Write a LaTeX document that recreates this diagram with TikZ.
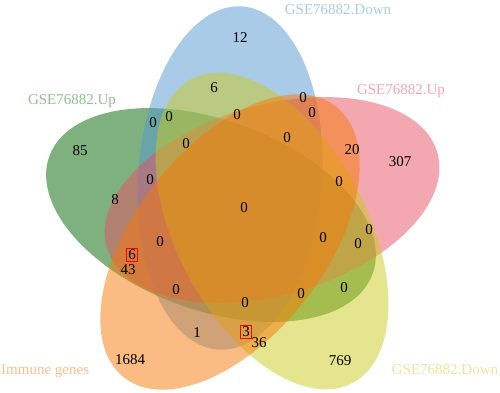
\documentclass[tikz,border=0pt]{standalone}
\usepackage{fontspec}
\setmainfont{Liberation Serif}
\usepackage{xcolor}
\usepackage{tikz}
\definecolor{vertgse}{RGB}{0,100,0}
\definecolor{bleugse}{RGB}{83,151,209}
\definecolor{rosegse}{RGB}{231,81,99}
\definecolor{jaunegse}{RGB}{203,203,31}
\definecolor{orangeimm}{RGB}{247,121,9}
\definecolor{labvert}{RGB}{142,192,142}
\definecolor{labbleu}{RGB}{168,203,234}
\definecolor{labrose}{RGB}{244,166,176}
\definecolor{labjaune}{RGB}{230,230,158}
\definecolor{laborange}{RGB}{251,190,140}

\begin{document}
\begin{tikzpicture}[x=1pt, y=-1pt,
    every node/.style={font=\fontsize{15}{18}\selectfont, inner sep=1pt},
    ens/.style={fill opacity=0.5},
    boite/.style={draw=red, line width=0.7pt, inner sep=1.6pt}]
    \useasboundingbox (0,0) rectangle (500,392);

    % Ensembles
    \fill[ens, fill=vertgse, shift={(211,215)}, rotate=160] (0,0) ellipse (172 and 95);
    \fill[ens, fill=bleugse, shift={(230,178)}, rotate=86] (0,0) ellipse (172 and 92);
    \fill[ens, fill=rosegse, shift={(272,200)}, rotate=16] (0,0) ellipse (172 and 95);
    \fill[ens, fill=jaunegse, shift={(272,231)}, rotate=-62] (0,0) ellipse (172 and 95);
    \fill[ens, fill=orangeimm, shift={(230,242)}, rotate=232] (0,0) ellipse (172 and 95);

    % Noms
    \node[color=labbleu] (tbleu) at (338,10) {GSE76882.Down};
    \node[color=labvert] (tvert) at (72,101) {GSE76882.Up};
    \node[color=labrose] (trose) at (401,91) {GSE76882.Up};
    \node[color=laborange, anchor=west] (torange) at (0,371) {Immune genes};
    \node[color=labjaune] (tjaune) at (445,370) {GSE76882.Down};

    % Effectifs
    \node (b) at (240,38) {12};
    \node (bj) at (214,88) {6};
    \node (vb) at (153,123) {0};
    \node (vbj) at (169,117) {0};
    \node (bjr) at (237,115) {0};
    \node (v) at (80,151) {85};
    \node (vbjr) at (186,144) {0};
    \node (vbr) at (150,180) {0};
    \node (vr) at (115,200) {8};
    \node (br) at (303,98) {0};
    \node (bro) at (312,113) {0};
    \node (bjro) at (287,138) {0};
    \node (ro) at (352,150) {20};
    \node (r) at (400,162) {307};
    \node (jro) at (339,182) {0};
    \node (tous) at (244,208) {0};
    \node (vbro) at (160,242) {0};
    \node[boite] (vro) at (132,255) {6};
    \node (vo) at (128,270) {43};
    \node (vbo) at (176,290) {0};
    \node (vbjo) at (245,303) {0};
    \node (vjro) at (323,238) {0};
    \node (vjr) at (358,244) {0};
    \node (jr) at (369,230) {0};
    \node (vjo) at (301,294) {0};
    \node (vj) at (344,288) {0};
    \node (bo) at (197,333) {1};
    \node[boite] (bjo) at (246,332) {3};
    \node (jo) at (259,343) {36};
    \node (o) at (130,360) {1684};
    \node (j) at (340,361) {769};
\end{tikzpicture}
\end{document}
